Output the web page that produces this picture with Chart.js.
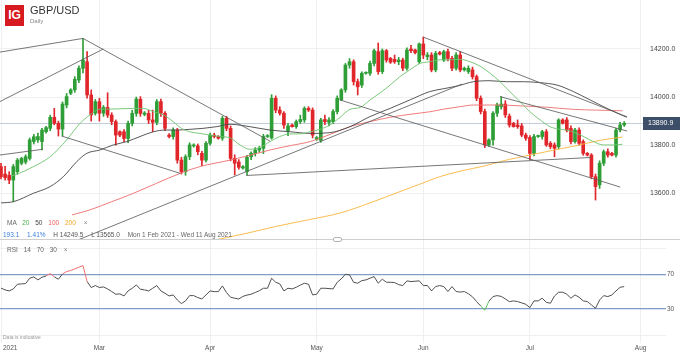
<!DOCTYPE html>
<html>
<head>
<meta charset="utf-8">
<script src="https://cdn.jsdelivr.net/npm/chart.js@4.4.0/dist/chart.umd.min.js"></script>
<style>
body { margin: 0; background: #fff; font-family: "Liberation Sans", Arial, sans-serif; }
#wrap { position: relative; width: 680px; height: 354px; overflow: hidden; background: #fff; }
canvas { position: absolute; left: 0; }
.t { position: absolute; white-space: nowrap; line-height: 1; }
</style>
</head>
<body>
<div id="wrap">
  <canvas id="priceChart" width="680" height="240" style="top:0px"></canvas>
  <canvas id="rsiChart" width="680" height="114" style="top:240px"></canvas>

  <div class="t" style="left:5px;top:5px;width:19px;height:21px;background:#d71920;color:#fff;font-weight:bold;font-size:12px;line-height:21px;text-align:center">IG</div>
  <div class="t" style="left:30px;top:5px;font-size:11px;color:#333">GBP/USD</div>
  <div class="t" style="left:30px;top:17.5px;font-size:6px;color:#888">Daily</div>

  <div class="t" style="left:7px;top:219.5px;font-size:6.5px;color:#666">MA
    <span style="color:#4caf50;margin-left:4px">20</span>
    <span style="color:#444;margin-left:4px">50</span>
    <span style="color:#e85c5c;margin-left:4px">100</span>
    <span style="color:#f5a623;margin-left:4px">200</span>
    <span style="color:#888;margin-left:6px">&#215;</span></div>
  <div class="t" style="left:3px;top:231.5px;font-size:6.5px;color:#555">
    <span style="color:#3b7dd8">193.1</span>
    <span style="color:#3b7dd8;margin-left:6px">1.41%</span>
    <span style="margin-left:6px">H 14249.5</span>
    <span style="margin-left:6px">L 13565.0</span>
    <span style="color:#666;margin-left:6px">Mon 1 Feb 2021 - Wed 11 Aug 2021</span></div>

  <div style="position:absolute;left:0;top:239px;width:680px;height:1px;background:#cfcfcf"></div>
  <div style="position:absolute;left:333px;top:237px;width:7px;height:3px;border:1px solid #b5b5b5;background:#fff;border-radius:2px"></div>

  <div class="t" style="left:7px;top:246.5px;font-size:6.5px;color:#666">RSI
    <span style="margin-left:4px">14</span>
    <span style="margin-left:4px">70</span>
    <span style="margin-left:4px">30</span>
    <span style="color:#888;margin-left:5px">&#215;</span></div>

  <div class="t" style="left:3px;top:335px;font-size:5px;color:#999">Data is indicative</div>
  <div class="t" id="firstMonth" style="left:3px;top:345px;font-size:6.5px;color:#555"></div>
</div>

<script>
// candles, one slot per trading day (Sunday sessions included), Feb 1 = slot 0
const opens = [
  13711,13680,13675,13655,13690,13725,13730,13745,13815,13822,
  13815,13856,13870,13916,13891,13867,13967,14016,14030,14071,
  14120,14147,14009,13933,13981,13933,13957,13925,13898,13856,
  13856,13828,13891,13932,13991,13928,13932,13905,13895,13981,
  13933,13842,13836,13863,13738,13690,13752,13797,13797,13766,
  13738,13808,13842,13836,13829,13912,13870,13745,13730,13705,
  13690,13752,13766,13780,13787,13836,13830,13995,13946,13933,
  13860,13884,13877,13898,13905,13953,13946,13825,13820,13907,
  13895,13898,13940,13988,14030,14133,14147,14064,14050,14099,
  14099,14140,14189,14106,14193,14161,14157,14147,14154,14120,
  14200,14196,14147,14221,14168,14175,14113,14185,14154,14189,
  14161,14120,14175,14113,14106,14113,14085,13995,13940,13801,
  13822,13933,13960,13971,13921,13891,13884,13880,13842,13832,
  13766,13836,13836,13856,13808,13801,13794,13905,13905,13870,
  13815,13863,13815,13766,13759,13669,13635,13725,13773,13766,
  13759,13863,13884
];
const highs = [
  13725,13712,13690,13720,13745,13750,13760,13830,13845,13850,
  13870,13878,13925,13953,13900,13980,14015,14035,14085,14130,
  14244,14189,14030,13990,13995,13965,14018,13935,13905,13860,
  13865,13900,13945,14000,14002,13940,13945,13946,13990,13992,
  13940,13848,13872,13870,13750,13760,13810,13806,13805,13775,
  13815,13850,13850,13840,13920,13920,13880,13760,13740,13715,
  13758,13772,13790,13795,13845,13844,14010,14005,13960,13940,
  13890,13888,13905,13925,13960,13960,13955,13836,13912,13925,
  13915,13948,14005,14035,14140,14160,14155,14075,14105,14105,
  14150,14200,14225,14200,14198,14165,14175,14165,14162,14205,
  14215,14200,14225,14249.5,14185,14185,14190,14190,14195,14200,
  14170,14185,14190,14125,14130,14125,14092,14005,13950,13826,
  13940,13975,14002,13985,13930,13895,13905,13890,13850,13840,
  13845,13842,13862,13865,13815,13810,13910,13910,13915,13880,
  13870,13872,13822,13770,13765,13680,13735,13780,13785,13770,
  13870,13895,13898
];
const lows = [
  13660,13655,13640,13565,13680,13718,13722,13738,13805,13812,
  13780,13850,13860,13885,13838,13838,13955,14010,14020,14060,
  14100,13995,13900,13925,13900,13920,13915,13885,13800,13835,
  13815,13810,13880,13920,13920,13922,13890,13856,13885,13920,
  13860,13830,13825,13725,13680,13675,13740,13792,13760,13715,
  13730,13800,13830,13825,13820,13860,13735,13676,13700,13700,
  13676,13740,13755,13770,13765,13832,13825,13935,13925,13870,
  13840,13875,13870,13890,13895,13940,13830,13820,13812,13885,
  13880,13890,13930,13985,14020,14120,14050,14009,14040,14095,
  14090,14130,14095,14098,14145,14140,14140,14135,14110,14112,
  14185,14180,14140,14160,14155,14105,14105,14175,14148,14150,
  14110,14112,14105,14108,14098,14075,13985,13930,13790,13795,
  13800,13920,13950,13915,13875,13875,13870,13835,13820,13740,
  13755,13832,13825,13795,13785,13752,13785,13888,13855,13805,
  13808,13800,13758,13755,13660,13572,13620,13715,13750,13755,
  13750,13855,13878
];
const closes = [
  13669,13665,13655,13711,13738,13745,13752,13822,13835,13836,
  13863,13873,13916,13891,13867,13971,14002,14030,14074,14120,
  14154,14009,13926,13981,13933,13957,13925,13898,13842,13842,
  13828,13891,13932,13992,13932,13934,13905,13895,13981,13933,
  13870,13836,13863,13738,13690,13752,13801,13801,13773,13738,
  13808,13842,13836,13829,13912,13870,13745,13725,13708,13711,
  13750,13766,13780,13787,13836,13840,13995,13946,13933,13884,
  13880,13877,13898,13907,13953,13946,13842,13832,13905,13898,
  13905,13940,13995,14030,14133,14147,14064,14043,14099,14102,
  14140,14193,14106,14193,14154,14145,14147,14154,14120,14196,
  14193,14185,14221,14175,14175,14113,14182,14179,14189,14161,
  14120,14175,14113,14120,14120,14085,13995,13940,13801,13822,
  13933,13967,13971,13926,13884,13877,13877,13842,13829,13766,
  13836,13840,13856,13801,13794,13787,13905,13891,13863,13815,
  13863,13808,13766,13759,13669,13628,13725,13773,13759,13759,
  13863,13884,13890.9
];

// moving averages: [slot, price]
const ma20 = [[2.5,13672],[3.4,13676],[7.9,13711],[12,13752],[16,13822],[19.3,13891],[21.7,13926],[24.1,13950],
  [26.6,13950],[32.3,13953],[34.7,13953],[37.2,13939],[39.6,13926],[42,13898],[44,13870],[46,13856],[48.5,13849],
  [51,13842],[53.4,13836],[55.9,13830],[58.3,13801],[60.7,13783],[63.2,13791],[65.6,13815],[68,13836],[70.5,13847],
  [72.9,13847],[75.4,13856],[77.8,13866],[80.2,13884],[82.7,13916],[85.1,13949],[87.6,13957],[90,13988],[92.5,14018],
  [94.9,14050],[97.3,14085],[99.7,14113],[102.2,14140],[104.6,14147],[107.1,14155],[109.5,14155],[112,14157],
  [114.4,14147],[116.8,14129],[119.3,14099],[121.7,14064],[124.1,14023],[126.6,13981],[129,13939],[131.5,13905],
  [133.9,13877],[136,13867],[138,13863],[140.4,13849],[142.4,13833],[144.5,13815],[146.9,13801],[149.4,13801],[151.6,13804]];
const ma50 = [[0,13560],[3,13565],[7.9,13600],[12,13628],[15.2,13669],[18.5,13732],[20.9,13766],[24.1,13780],
  [27.4,13801],[30.7,13815],[33.9,13836],[37.2,13856],[40,13863],[42.8,13863],[46.1,13866],[49.3,13870],[52.6,13877],
  [55.9,13887],[60.7,13877],[65.6,13863],[70.5,13856],[75.4,13849],[80.2,13852],[85.1,13877],[90,13919],[94.9,13953],
  [99.7,13988],[104.6,14023],[108,14035],[111.5,14047],[115.2,14064],[119.3,14068],[123.2,14064],[127.4,14064],
  [131.5,14060],[135.6,14050],[139.6,14023],[143.7,13988],[147.8,13953],[152.6,13916]];
const ma100 = [[17.3,13510],[21.7,13531],[27,13565],[32.3,13600],[38,13642],[43.7,13683],[48.5,13711],[55.9,13738],
  [60.7,13758],[65.6,13780],[70.5,13798],[75.4,13815],[80,13843],[85.1,13877],[90,13898],[94.9,13916],[100,13929],
  [104.6,13939],[108,13950],[111.9,13960],[115.2,13967],[121,13967],[127.4,13963],[133,13958],[139.6,13949],
  [145,13946],[151.6,13943]];
const ma200 = [[50,13398],[60,13434],[67,13462],[75,13490],[82.7,13518],[90,13560],[97,13605],[102,13637],[107,13669],
  [112,13692],[118,13714],[123,13737],[129,13759],[135,13780],[140,13797],[146,13820],[151.6,13834]];

// drawn trend lines: [slot1, price1, slot2, price2]
const trendLines = [
  [-0.3,14187,20,14244],
  [20,14244,65.6,13817],
  [-0.3,13981,24.95,14200],
  [-0.3,13759,10.2,13783],
  [14.8,13838,43.7,13683],
  [14,13373,112.4,14054],
  [59.8,13674,143.9,13749],
  [103,14249.5,152.7,13918],
  [121.7,14002,152.7,13859],
  [82.7,13988,151,13626]
];

const rsi = [
  54.0,52.0,50.8,53.1,58.5,58.9,59.3,65.4,67.0,63.5,
  66.6,68.1,70.8,67.0,64.3,70.4,73.1,74.3,76.2,78.1,
  80.0,61.6,54.7,57.0,54.7,55.4,53.1,50.1,47.0,47.4,
  45.0,50.8,53.9,57.7,52.7,52.0,50.8,53.9,57.0,50.8,
  48.1,45.0,46.2,40.4,36.2,39.3,45.4,45.4,43.1,41.6,
  46.2,50.8,50.0,50.0,56.6,48.9,43.5,42.4,41.5,44.5,
  46.0,47.0,49.0,51.0,53.9,53.9,65.4,60.8,58.9,50.8,
  53.9,53.1,55.0,57.5,59.7,58.5,46.2,47.0,53.9,53.9,
  53.5,53.1,60.8,64.7,70.0,69.3,60.8,59.7,62.7,63.5,
  65.5,67.3,59.7,64.3,60.8,60.8,60.4,58.0,57.0,62.4,
  61.6,62.0,62.4,57.0,57.0,50.8,55.8,57.0,55.8,50.1,
  55.8,50.1,49.5,50.1,47.5,44.0,38.5,33.5,28.5,39.0,
  44.3,45.4,44.5,41.6,38.5,39.3,38.5,37.0,35.4,31.6,
  39.3,39.3,42.4,37.7,36.6,45.0,49.3,49.3,47.0,42.4,
  46.2,43.5,39.3,38.5,34.7,30.8,40.4,45.4,44.3,46.2,
  50.8,55.0,55.8
];

const monthTicks = [0, 24, 51, 77, 103, 129, 156];
const monthNames = ['2021', 'Mar', 'Apr', 'May', 'Jun', 'Jul', 'Aug'];
const priceTicks = [13600, 13800, 14000, 14200];
const rsiTicks = [0, 30, 70, 100];

const X_MIN = -0.244, X_MAX = 155.85;
const UP = '#2e9e36', DOWN = '#e0262b';
const FONT = '"Liberation Sans", Arial, sans-serif';

Chart.defaults.font.family = FONT;
Chart.defaults.animation = false;

document.getElementById('firstMonth').textContent = monthNames[0];

const slots = closes.map((c, i) => i);
const candleColor = ctx => closes[ctx.dataIndex] >= opens[ctx.dataIndex] ? UP : DOWN;
const toPts = arr => arr.map(p => ({ x: p[0], y: p[1] }));

function maSet(points, color) {
    return {
        type: 'line', data: toPts(points), borderColor: color, borderWidth: 1,
        pointRadius: 0, cubicInterpolationMode: 'monotone'
    };
}

const lineSets = trendLines.map(l => ({
    type: 'line',
    data: [{ x: l[0], y: l[1] }, { x: l[2], y: l[3] }],
    borderColor: 'rgba(95,95,95,0.85)', borderWidth: 1, pointRadius: 0
}));

const lastPrice = closes[closes.length - 1];

const lastPricePlugin = {
    id: 'lastPrice',
    beforeDatasetsDraw(chart) {
        const c = chart.ctx;
        const y = Math.round(chart.scales.y.getPixelForValue(lastPrice)) + 0.5;
        c.save();
        c.strokeStyle = '#c2ccda';
        c.lineWidth = 1;
        c.beginPath();
        c.moveTo(0, y);
        c.lineTo(645, y);
        c.stroke();
        c.restore();
    },
    afterDraw(chart) {
        const c = chart.ctx;
        const y = Math.round(chart.scales.y.getPixelForValue(lastPrice));
        c.save();
        c.fillStyle = '#3d4e68';
        c.fillRect(643, y - 6, 37, 13);
        c.fillStyle = '#fff';
        c.font = '7px ' + FONT;
        c.textBaseline = 'middle';
        c.fillText(lastPrice.toFixed(1), 648, y + 0.5);
        c.restore();
    }
};

new Chart(document.getElementById('priceChart'), {
    type: 'bar',
    data: {
        datasets: [
            ...lineSets,
            maSet(ma20, 'rgba(110,195,110,0.9)'),
            maSet(ma50, 'rgba(70,70,70,0.9)'),
            maSet(ma100, 'rgba(238,110,110,0.9)'),
            maSet(ma200, 'rgba(250,185,70,0.95)'),
            {
                data: slots.map(i => ({ x: i, y: [opens[i], closes[i]] })),
                backgroundColor: candleColor, barThickness: 3, grouped: false, minBarLength: 1
            },
            {
                data: slots.map(i => ({ x: i, y: [lows[i], highs[i]] })),
                backgroundColor: candleColor, barThickness: 1, grouped: false
            }
        ]
    },
    options: {
        responsive: false,
        devicePixelRatio: 1,
        layout: { padding: 0, autoPadding: false },
        plugins: { legend: { display: false }, tooltip: { enabled: false } },
        scales: {
            x: {
                type: 'linear', min: X_MIN, max: X_MAX, offset: false,
                afterBuildTicks: s => { s.ticks = monthTicks.map(v => ({ value: v })); },
                afterFit: s => { s.height = 0; s.paddingLeft = 0; s.paddingRight = 0; },
                ticks: { display: false },
                grid: { color: '#efefef', drawTicks: false, offset: false },
                border: { display: false }
            },
            y: {
                position: 'right', min: 13405.8, max: 14403.7,
                afterBuildTicks: s => { s.ticks = priceTicks.map(v => ({ value: v })); },
                afterFit: s => { s.width = 40; s.paddingTop = 0; s.paddingBottom = 0; },
                ticks: {
                    padding: 10, color: '#444', font: { size: 7 },
                    callback: v => Number(v).toFixed(1)
                },
                grid: { color: '#efefef', drawTicks: false },
                border: { display: false }
            }
        }
    },
    plugins: [lastPricePlugin]
});

const rsiTickColor = ctx => (ctx.tick && (ctx.tick.value === 30 || ctx.tick.value === 70)) ? '#7f9dc6' : '#efefef';

new Chart(document.getElementById('rsiChart'), {
    type: 'line',
    data: {
        datasets: [{
            data: slots.map(i => ({ x: i, y: rsi[i] })),
            borderColor: '#505050', borderWidth: 1, pointRadius: 0,
            segment: {
                borderColor: ctx => {
                    const a = ctx.p0.parsed.y, b = ctx.p1.parsed.y;
                    if (Math.max(a, b) > 70.5) return '#f07070';
                    if (Math.min(a, b) < 29.5) return '#5cc45c';
                    return '#505050';
                }
            }
        }]
    },
    options: {
        responsive: false,
        devicePixelRatio: 1,
        layout: { padding: 0, autoPadding: false },
        plugins: { legend: { display: false }, tooltip: { enabled: false } },
        scales: {
            x: {
                type: 'linear', min: X_MIN, max: X_MAX,
                afterBuildTicks: s => { s.ticks = monthTicks.map(v => ({ value: v })); },
                afterFit: s => { s.height = 19; s.paddingLeft = 0; s.paddingRight = 0; },
                ticks: {
                    padding: 1, color: '#555', font: { size: 6.5 }, maxRotation: 0, autoSkip: false,
                    callback: v => { const k = monthTicks.indexOf(v); return k > 0 ? monthNames[k] : ''; }
                },
                grid: { color: '#efefef', drawTicks: true, tickLength: 8, tickColor: '#efefef' },
                border: { display: false }
            },
            y: {
                position: 'right', min: 0, max: 109.5,
                afterBuildTicks: s => { s.ticks = rsiTicks.map(v => ({ value: v })); },
                afterFit: s => { s.width = 40; s.paddingTop = 0; s.paddingBottom = 0; },
                ticks: {
                    padding: 1, color: '#555', font: { size: 6.5 },
                    callback: v => (v === 30 || v === 70) ? String(v) : ''
                },
                grid: {
                    color: rsiTickColor, tickColor: rsiTickColor,
                    lineWidth: ctx => (ctx.tick && (ctx.tick.value === 30 || ctx.tick.value === 70)) ? 1.3 : 1,
                    drawTicks: true, tickLength: 26
                },
                border: { display: false }
            }
        }
    }
});
</script>
</body>
</html>
